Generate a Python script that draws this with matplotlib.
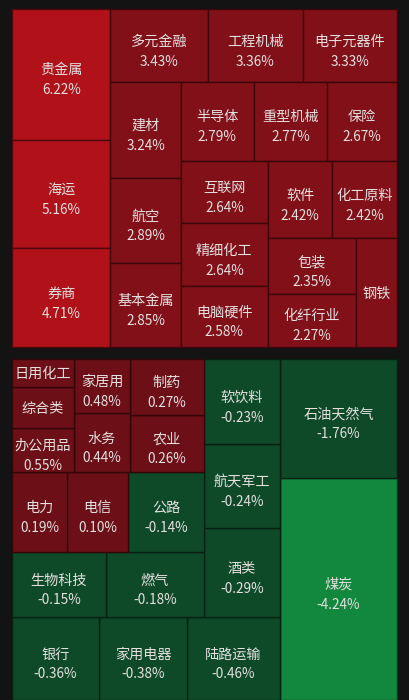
import matplotlib
matplotlib.use("Agg")
import matplotlib.pyplot as plt
from matplotlib.patches import Rectangle
from matplotlib.colors import to_rgb

plt.rcParams['font.family'] = ['Noto Sans CJK SC', 'DejaVu Sans']

# --- Data: leading sectors (area follows the gain) ---
top_names = ["贵金属", "海运", "券商", "多元金融", "工程机械", "电子元器件", "建材",
             "航空", "基本金属", "半导体", "重型机械", "保险", "互联网", "精细化工",
             "电脑硬件", "软件", "化工原料", "包装", "化纤行业", "钢铁"]
top_change = [6.22, 5.16, 4.71, 3.43, 3.36, 3.33, 3.24, 2.89, 2.85, 2.79, 2.77,
              2.67, 2.64, 2.64, 2.58, 2.42, 2.42, 2.35, 2.27, 2.15]

# --- Data: remaining sectors, worst first, with their block weights ---
bottom_names = ["煤炭", "石油天然气", "陆路运输", "家用电器", "银行", "酒类", "航天军工",
                "软饮料", "燃气", "生物科技", "公路", "电信", "电力", "农业", "制药",
                "水务", "家居用", "办公用品", "综合类", "日用化工"]
bottom_change = [-4.24, -1.76, -0.46, -0.38, -0.36, -0.29, -0.24, -0.23, -0.18, -0.15,
                 -0.14, 0.10, 0.19, 0.26, 0.27, 0.44, 0.48, 0.55, 0.62, 0.71]
bottom_weight = [25.97, 13.92, 7.72, 7.30, 7.22, 6.76, 6.38, 6.46, 6.37, 6.11,
                 6.08, 4.88, 4.40, 4.22, 4.14, 3.30, 3.02, 2.73, 2.54, 1.74]

W, H = 410, 700
BG = "#131313"
TEXT = "#e4e0e0"


# --- Squarified treemap (Bruls et al.) ---
def worst(row, side):
    s = sum(row)
    return max(max(side * side * r / (s * s), s * s / (side * side * r)) for r in row)


def squarify(weights, x, y, w, h):
    total = sum(weights)
    areas = [v * w * h / total for v in weights]
    rects = []
    i = 0
    while i < len(areas):
        side = min(w, h)
        row = [areas[i]]
        j = i + 1
        while j < len(areas) and worst(row + [areas[j]], side) <= worst(row, side):
            row.append(areas[j])
            j += 1
        s = sum(row)
        if w >= h:
            cw = s / h
            yy = y
            for a in row:
                rects.append((x, yy, cw, a / cw))
                yy += a / cw
            x += cw
            w -= cw
        else:
            rh = s / w
            xx = x
            for a in row:
                rects.append((xx, y, a / rh, rh))
                xx += a / rh
            y += rh
            h -= rh
        i = j
    return rects


def color_for(v):
    if v >= 4:
        return "#b1121a"
    if v >= 2:
        return "#821018"
    if v > 0:
        return "#6c0f16"
    if v <= -3:
        return "#12873e"
    return "#0e4a27"


def draw_cell(ax, rect, name, v):
    x, y, w, h = rect
    face = color_for(v)
    edge = tuple(c * 0.45 for c in to_rgb(face))
    ax.add_patch(Rectangle((x, y), w, h, facecolor=face, edgecolor=edge, linewidth=1.0))
    cx, cy = x + w / 2, y + h / 2
    if w >= 50 and h >= 43:
        ax.text(cx, cy - 4, name, ha='center', va='center', fontsize=10.2, color=TEXT)
        ax.text(cx, cy + 16, f"{v:.2f}%", ha='center', va='center', fontsize=9.8, color=TEXT)
    elif w >= 13 * len(name) + 4 and h >= 18:
        ax.text(cx, cy + 1, name, ha='center', va='center', fontsize=10.2, color=TEXT)


fig = plt.figure(figsize=(W / 100, H / 100), dpi=100)
fig.patch.set_facecolor(BG)
ax = fig.add_axes([0, 0, 1, 1])
ax.set_xlim(0, W)
ax.set_ylim(H, 0)
ax.axis('off')

# top block, laid out from the top-left corner
bx, by, bw, bh = 12, 9, 385, 338
for rect, name, v in zip(squarify(top_change, bx, by, bw, bh), top_names, top_change):
    draw_cell(ax, rect, name, v)

# bottom block, laid out from the bottom-right corner
bx, by, bw, bh = 12, 359, 385, 341
for (x, y, w, h), name, v in zip(squarify(bottom_weight, bx, by, bw, bh), bottom_names, bottom_change):
    rect = (bx + bw - (x - bx) - w, by + bh - (y - by) - h, w, h)
    draw_cell(ax, rect, name, v)

fig.savefig("out.png", dpi=100, facecolor=BG)
